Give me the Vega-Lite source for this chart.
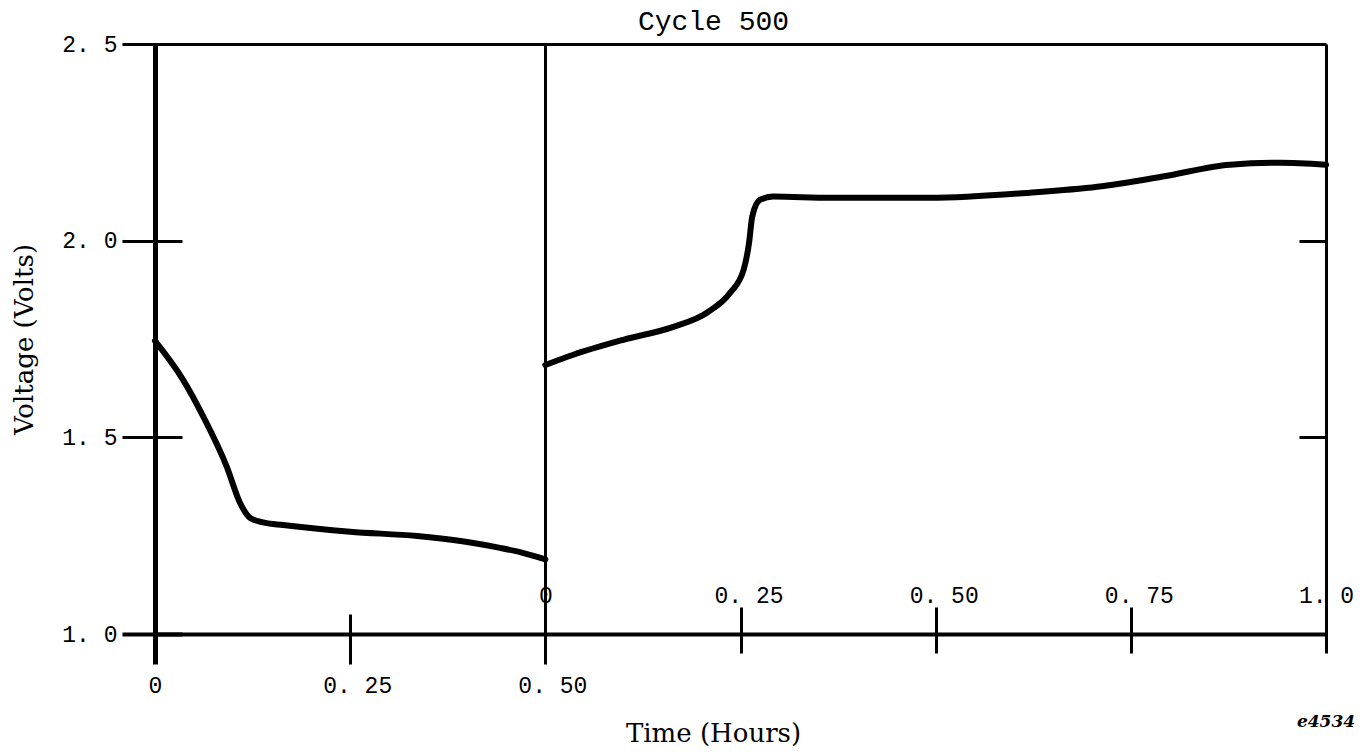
{
  "$schema": "https://vega.github.io/schema/vega-lite/v6.json",
  "width": 1171,
  "height": 590,
  "autosize": {"type": "none"},
  "padding": {"left": 155, "top": 44, "right": 45, "bottom": 120},
  "background": "white",
  "title": {
    "text": "Cycle 500",
    "font": "Liberation Mono",
    "fontSize": 28,
    "fontWeight": "normal",
    "color": "black",
    "anchor": "middle",
    "frame": "group",
    "dx": -27,
    "offset": -3
  },
  "config": {
    "view": {"stroke": null},
    "axis": {"domain": false, "tickColor": "black", "labelColor": "black", "titleColor": "black", "gridColor": "black", "labelOverlap": false, "labelFlush": false}
  },
  "datasets": {
    "discharge": [
      {"elapsed": 0.0, "volts": 1.745},
      {"elapsed": 0.036, "volts": 1.646},
      {"elapsed": 0.062, "volts": 1.552},
      {"elapsed": 0.092, "volts": 1.425},
      {"elapsed": 0.109, "volts": 1.333},
      {"elapsed": 0.122, "volts": 1.295},
      {"elapsed": 0.14, "volts": 1.283},
      {"elapsed": 0.164, "volts": 1.277},
      {"elapsed": 0.25, "volts": 1.26},
      {"elapsed": 0.336, "volts": 1.249},
      {"elapsed": 0.4, "volts": 1.234},
      {"elapsed": 0.442, "volts": 1.219},
      {"elapsed": 0.47, "volts": 1.207},
      {"elapsed": 0.5, "volts": 1.19}
    ],
    "charge": [
      {"elapsed": 0.5, "volts": 1.684},
      {"elapsed": 0.536, "volts": 1.71},
      {"elapsed": 0.6, "volts": 1.748},
      {"elapsed": 0.664, "volts": 1.781},
      {"elapsed": 0.707, "volts": 1.817},
      {"elapsed": 0.737, "volts": 1.868},
      {"elapsed": 0.754, "volts": 1.926},
      {"elapsed": 0.761, "volts": 1.995},
      {"elapsed": 0.765, "volts": 2.061},
      {"elapsed": 0.775, "volts": 2.104},
      {"elapsed": 0.792, "volts": 2.112},
      {"elapsed": 0.865, "volts": 2.109},
      {"elapsed": 0.993, "volts": 2.109},
      {"elapsed": 1.121, "volts": 2.122},
      {"elapsed": 1.207, "volts": 2.137},
      {"elapsed": 1.291, "volts": 2.163},
      {"elapsed": 1.377, "volts": 2.193},
      {"elapsed": 1.441, "volts": 2.198},
      {"elapsed": 1.5, "volts": 2.193}
    ],
    "note": [{"label": "e4534"}]
  },
  "layer": [
    {
      "data": {"name": "discharge"},
      "mark": {"type": "line", "color": "black", "strokeWidth": 6, "interpolate": "monotone", "strokeCap": "round"},
      "encoding": {
        "x": {
          "field": "elapsed", "type": "quantitative",
          "scale": {"domain": [0, 1.5], "nice": false, "zero": false},
          "axis": {
            "orient": "bottom",
            "values": [0, 0.25, 0.5],
            "offset": -20,
            "tickSize": 50,
            "tickWidth": {"condition": {"test": "datum.value === 0", "value": 5}, "value": 3},
            "grid": true,
            "gridWidth": {"condition": {"test": "datum.value === 0", "value": 5}, "value": 3},
            "gridOpacity": {"condition": {"test": "datum.value === 0.25", "value": 0}, "value": 1},
            "labelExpr": "datum.value === 0 ? '0' : replace(format(datum.value, '.2f'), '.', '. ')",
            "labelFont": "Liberation Mono",
            "labelFontSize": 23,
            "labelPadding": 10,
            "labelOffset": {"condition": {"test": "datum.value === 0", "value": 0}, "value": 7},
            "title": "Time (Hours)",
            "titleFont": "DejaVu Serif",
            "titleFontSize": 26,
            "titleFontWeight": "normal",
            "titlePadding": 23,
            "titleX": 558
          }
        },
        "y": {
          "field": "volts", "type": "quantitative",
          "scale": {"domain": [1, 2.5], "nice": false, "zero": false},
          "axis": {
            "orient": "left",
            "values": [1, 1.5, 2, 2.5],
            "offset": -27,
            "tickSize": 60,
            "tickWidth": {"condition": {"test": "datum.value === 1", "value": 4}, "value": 3},
            "grid": true,
            "gridWidth": {"condition": {"test": "datum.value === 1", "value": 4}, "value": 3},
            "gridOpacity": {"condition": {"test": "datum.value === 1.5 || datum.value === 2", "value": 0}, "value": 1},
            "labelExpr": "replace(format(datum.value, '.1f'), '.', '. ')",
            "labelFont": "Liberation Mono",
            "labelFontSize": 23,
            "labelPadding": 5,
            "title": "Voltage (Volts)",
            "titleFont": "DejaVu Serif",
            "titleFontSize": 26,
            "titleFontWeight": "normal",
            "titlePadding": 24
          }
        }
      }
    },
    {
      "data": {"name": "charge"},
      "mark": {"type": "line", "color": "black", "strokeWidth": 6, "interpolate": "monotone", "strokeCap": "round"},
      "encoding": {
        "x": {
          "field": "elapsed", "type": "quantitative",
          "scale": {"domain": [0, 1.5], "nice": false, "zero": false},
          "axis": {
            "orient": "top",
            "values": [0.5, 0.75, 1, 1.25, 1.5],
            "offset": -609,
            "tickSize": 46,
            "tickWidth": 3,
            "grid": true,
            "gridWidth": 3,
            "gridOpacity": {"condition": {"test": "datum.value === 0.5 || datum.value === 1.5", "value": 1}, "value": 0},
            "labelExpr": "datum.value === 0.5 ? '0' : datum.value === 1.5 ? '1. 0' : replace(format(datum.value - 0.5, '.2f'), '.', '. ')",
            "labelFont": "Liberation Mono",
            "labelFontSize": 23,
            "labelPadding": 0,
            "labelOffset": {"condition": {"test": "datum.value === 0.5 || datum.value === 1.5", "value": 0}, "value": 8},
            "title": null
          }
        },
        "y": {
          "field": "volts", "type": "quantitative",
          "scale": {"domain": [1, 2.5], "nice": false, "zero": false},
          "axis": {
            "orient": "right",
            "values": [1.5, 2],
            "offset": -27,
            "tickSize": 27,
            "tickWidth": 3,
            "grid": false,
            "labels": false,
            "title": null
          }
        }
      }
    },
    {
      "data": {"name": "note"},
      "mark": {"type": "text", "font": "DejaVu Serif", "fontStyle": "italic", "fontWeight": "bold", "fontSize": 17, "color": "black", "align": "center", "baseline": "middle"},
      "encoding": {
        "x": {"datum": 1.5, "type": "quantitative", "axis": null},
        "y": {"datum": 0.776, "type": "quantitative", "axis": null},
        "text": {"field": "label"}
      }
    }
  ],
  "resolve": {"axis": {"x": "independent", "y": "independent"}}
}
